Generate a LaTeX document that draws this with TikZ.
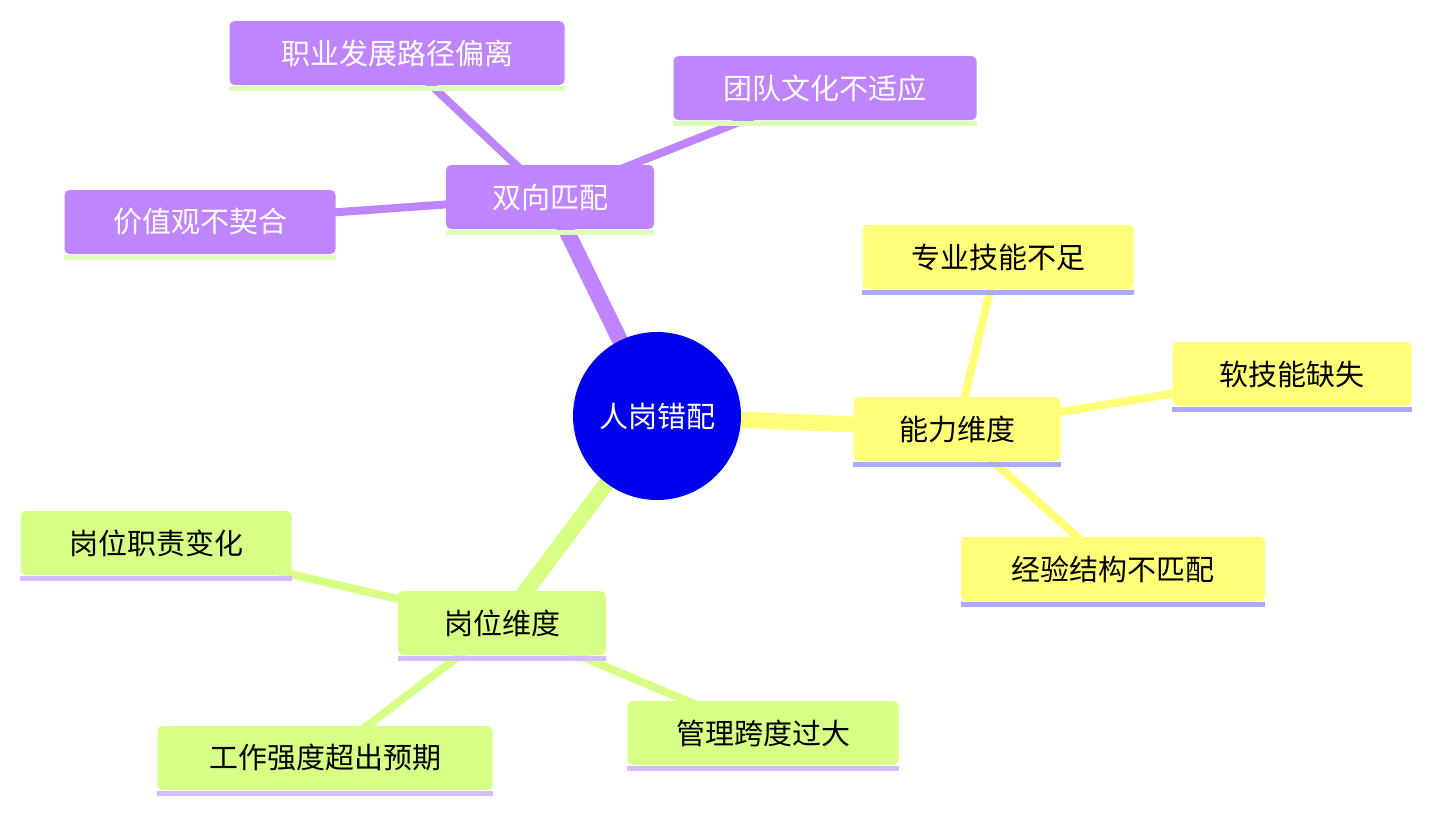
\documentclass[tikz,border=0pt]{standalone}
\usepackage{fontspec}
\setmainfont{Noto Sans CJK SC}
\usetikzlibrary{backgrounds}
\definecolor{pur}{HTML}{BF85FF}
\definecolor{yel}{HTML}{FFFF78}
\definecolor{grn}{HTML}{D8FF85}
\definecolor{ulg}{HTML}{DDFFB8}
\definecolor{uly}{HTML}{AAAAFF}
\definecolor{ulp}{HTML}{D3BCFF}
\definecolor{rootc}{HTML}{0000EE}
\tikzset{
 box/.style={rectangle,rounded corners=5pt,minimum height=64pt,inner xsep=14pt,font=\fontsize{29}{32}\selectfont},
 pbox/.style={box,fill=pur,text=white},
 ybox/.style={box,fill=yel,text=black},
 gbox/.style={box,fill=grn,text=black},
 thick edge/.style={line width=16pt},
 thin edge/.style={line width=8pt},
 uline/.style={line width=5pt},
}
\newcommand{\myul}[2]{\draw[uline,#2] ([yshift=-3pt]#1.south west) -- ([yshift=-3pt]#1.south east);}
\begin{document}
\begin{tikzpicture}[x=1pt,y=-1pt]
\useasboundingbox (0,0) rectangle (1432,812);
% nodes
\node[circle,fill=rootc,text=white,minimum size=168pt,font=\fontsize{29}{32}\selectfont] (r) at (657,416) {人岗错配};
\node[pbox,minimum width=208pt] (s) at (550,197) {双向匹配};
\node[pbox,minimum width=335pt] (s1) at (397,53) {职业发展路径偏离};
\node[pbox,minimum width=303pt] (s2) at (825,88) {团队文化不适应};
\node[pbox,minimum width=271pt] (s3) at (200,222) {价值观不契合};
\node[ybox,minimum width=207pt] (a) at (957,429) {能力维度};
\node[ybox,minimum width=271pt] (a1) at (998,257) {专业技能不足};
\node[ybox,minimum width=239pt] (a2) at (1292,374) {软技能缺失};
\node[ybox,minimum width=304pt] (a3) at (1113,569) {经验结构不匹配};
\node[gbox,minimum width=208pt] (g) at (502,623) {岗位维度};
\node[gbox,minimum width=271pt] (g1) at (156,543) {岗位职责变化};
\node[gbox,minimum width=335pt] (g2) at (325,758) {工作强度超出预期};
\node[gbox,minimum width=271pt] (g3) at (763,733) {管理跨度过大};
\myul{s}{ulg}\myul{s1}{ulg}\myul{s2}{ulg}\myul{s3}{ulg}
\myul{a}{uly}\myul{a1}{uly}\myul{a2}{uly}\myul{a3}{uly}
\myul{g}{ulp}\myul{g1}{ulp}\myul{g2}{ulp}\myul{g3}{ulp}
% edges behind
\begin{scope}[on background layer]
\draw[thick edge,pur] (r.center) -- (s.center);
\draw[thick edge,yel] (r.center) -- (a.center);
\draw[thick edge,grn] (r.center) -- (g.center);
\draw[thin edge,pur] (s.center) -- (s1.center);
\draw[thin edge,pur] (s.center) -- (s2.center);
\draw[thin edge,pur] (s.center) -- (s3.center);
\draw[thin edge,yel] (a.center) -- (a1.center);
\draw[thin edge,yel] (a.center) -- (a2.center);
\draw[thin edge,yel] (a.center) -- (a3.center);
\draw[thin edge,grn] (g.center) -- (g1.center);
\draw[thin edge,grn] (g.center) -- (g2.center);
\draw[thin edge,grn] (g.center) -- (g3.center);
\end{scope}
\end{tikzpicture}
\end{document}
